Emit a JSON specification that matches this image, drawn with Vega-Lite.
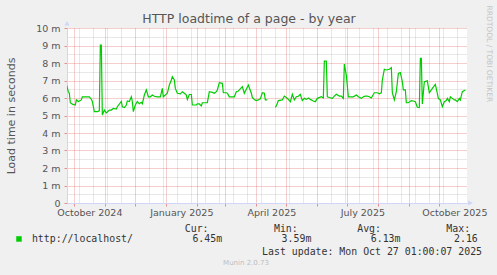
{
  "$schema": "https://vega.github.io/schema/vega-lite/v6.json",
  "width": 400,
  "height": 175,
  "autosize": {"type": "none"},
  "padding": {"left": 67, "top": 28, "right": 30, "bottom": 72},
  "background": "#f0f0f0",
  "config": {"view": {"fill": "#ffffff", "stroke": null}, "font": "DejaVu Sans"},
  "title": {
    "text": "HTTP loadtime of a page - by year",
    "anchor": "middle",
    "frame": "group",
    "dx": -18,
    "dy": 34,
    "font": "DejaVu Sans",
    "fontSize": 12.5,
    "fontWeight": "normal",
    "color": "#555555",
    "baseline": "alphabetic",
    "offset": 4
  },
  "data": {
    "values": [
      {"t": "2024-09-23", "v": 0.0068},
      {"t": "2024-09-25", "v": 0.00636},
      {"t": "2024-09-26", "v": 0.00627},
      {"t": "2024-09-27", "v": 0.00573},
      {"t": "2024-09-29", "v": 0.00565},
      {"t": "2024-10-02", "v": 0.0056},
      {"t": "2024-10-03", "v": 0.00589},
      {"t": "2024-10-05", "v": 0.0058},
      {"t": "2024-10-08", "v": 0.00589},
      {"t": "2024-10-09", "v": 0.00607},
      {"t": "2024-10-13", "v": 0.00607},
      {"t": "2024-10-16", "v": 0.00607},
      {"t": "2024-10-18", "v": 0.00593},
      {"t": "2024-10-19", "v": 0.0058},
      {"t": "2024-10-21", "v": 0.00522},
      {"t": "2024-10-24", "v": 0.00522},
      {"t": "2024-10-26", "v": 0.00527},
      {"t": "2024-10-27", "v": 0.00903},
      {"t": "2024-10-28", "v": 0.00903},
      {"t": "2024-10-29", "v": 0.00503},
      {"t": "2024-10-31", "v": 0.00531},
      {"t": "2024-11-02", "v": 0.00515},
      {"t": "2024-11-03", "v": 0.0052},
      {"t": "2024-11-05", "v": 0.00531},
      {"t": "2024-11-07", "v": 0.00531},
      {"t": "2024-11-09", "v": 0.00541},
      {"t": "2024-11-12", "v": 0.00537},
      {"t": "2024-11-13", "v": 0.0055},
      {"t": "2024-11-17", "v": 0.0058},
      {"t": "2024-11-18", "v": 0.0055},
      {"t": "2024-11-20", "v": 0.00545},
      {"t": "2024-11-22", "v": 0.0056},
      {"t": "2024-11-23", "v": 0.00583},
      {"t": "2024-11-25", "v": 0.0058},
      {"t": "2024-11-27", "v": 0.00607},
      {"t": "2024-11-28", "v": 0.0058},
      {"t": "2024-11-29", "v": 0.00522},
      {"t": "2024-12-01", "v": 0.0056},
      {"t": "2024-12-03", "v": 0.0058},
      {"t": "2024-12-05", "v": 0.00567},
      {"t": "2024-12-07", "v": 0.00575},
      {"t": "2024-12-08", "v": 0.00567},
      {"t": "2024-12-10", "v": 0.00617},
      {"t": "2024-12-12", "v": 0.00646},
      {"t": "2024-12-14", "v": 0.00607},
      {"t": "2024-12-16", "v": 0.00607},
      {"t": "2024-12-18", "v": 0.00617},
      {"t": "2024-12-20", "v": 0.0061},
      {"t": "2024-12-23", "v": 0.00607},
      {"t": "2024-12-26", "v": 0.00607},
      {"t": "2024-12-28", "v": 0.00655},
      {"t": "2024-12-29", "v": 0.00607},
      {"t": "2024-12-31", "v": 0.00617},
      {"t": "2025-01-02", "v": 0.00627},
      {"t": "2025-01-04", "v": 0.00674},
      {"t": "2025-01-06", "v": 0.00703},
      {"t": "2025-01-07", "v": 0.00722},
      {"t": "2025-01-09", "v": 0.00703},
      {"t": "2025-01-10", "v": 0.00655},
      {"t": "2025-01-12", "v": 0.00627},
      {"t": "2025-01-15", "v": 0.00624},
      {"t": "2025-01-17", "v": 0.00636},
      {"t": "2025-01-19", "v": 0.00627},
      {"t": "2025-01-21", "v": 0.00617},
      {"t": "2025-01-22", "v": 0.00592},
      {"t": "2025-01-24", "v": 0.0062},
      {"t": "2025-01-26", "v": 0.0062},
      {"t": "2025-01-27", "v": 0.0056},
      {"t": "2025-01-31", "v": 0.0056},
      {"t": "2025-02-01", "v": 0.00566},
      {"t": "2025-02-03", "v": 0.00566},
      {"t": "2025-02-05", "v": 0.00555},
      {"t": "2025-02-06", "v": 0.00573},
      {"t": "2025-02-11", "v": 0.00573},
      {"t": "2025-02-13", "v": 0.00636},
      {"t": "2025-02-16", "v": 0.00632},
      {"t": "2025-02-18", "v": 0.00627},
      {"t": "2025-02-20", "v": 0.00636},
      {"t": "2025-02-21", "v": 0.00646},
      {"t": "2025-02-23", "v": 0.00688},
      {"t": "2025-02-26", "v": 0.00684},
      {"t": "2025-02-27", "v": 0.0063},
      {"t": "2025-03-02", "v": 0.0063},
      {"t": "2025-03-03", "v": 0.00627},
      {"t": "2025-03-05", "v": 0.00607},
      {"t": "2025-03-08", "v": 0.00607},
      {"t": "2025-03-10", "v": 0.00607},
      {"t": "2025-03-12", "v": 0.00636},
      {"t": "2025-03-14", "v": 0.0064},
      {"t": "2025-03-15", "v": 0.00646},
      {"t": "2025-03-18", "v": 0.00665},
      {"t": "2025-03-20", "v": 0.00627},
      {"t": "2025-03-22", "v": 0.0065},
      {"t": "2025-03-24", "v": 0.00674},
      {"t": "2025-03-27", "v": 0.00627},
      {"t": "2025-03-28", "v": 0.00603},
      {"t": "2025-03-30", "v": 0.00592},
      {"t": "2025-04-01", "v": 0.00585},
      {"t": "2025-04-03", "v": 0.00589},
      {"t": "2025-04-05", "v": 0.00595},
      {"t": "2025-04-07", "v": 0.0063},
      {"t": "2025-04-09", "v": 0.00627},
      {"t": "2025-04-10", "v": 0.00589},
      {"t": "2025-04-12", "v": 0.00589},
      {"t": "2025-04-15", "v": null},
      {"t": "2025-04-20", "v": 0.00547},
      {"t": "2025-04-21", "v": 0.00555},
      {"t": "2025-04-23", "v": 0.00585},
      {"t": "2025-04-27", "v": 0.00589},
      {"t": "2025-04-29", "v": 0.00611},
      {"t": "2025-05-01", "v": 0.00603},
      {"t": "2025-05-03", "v": 0.00592},
      {"t": "2025-05-05", "v": 0.00579},
      {"t": "2025-05-07", "v": 0.00621},
      {"t": "2025-05-09", "v": 0.00589},
      {"t": "2025-05-11", "v": 0.00607},
      {"t": "2025-05-13", "v": 0.0061},
      {"t": "2025-05-15", "v": 0.00621},
      {"t": "2025-05-17", "v": 0.00585},
      {"t": "2025-05-19", "v": 0.00598},
      {"t": "2025-05-21", "v": 0.00592},
      {"t": "2025-05-23", "v": 0.006},
      {"t": "2025-05-25", "v": 0.00592},
      {"t": "2025-05-28", "v": 0.00583},
      {"t": "2025-05-30", "v": 0.00579},
      {"t": "2025-06-01", "v": 0.00598},
      {"t": "2025-06-05", "v": 0.00607},
      {"t": "2025-06-07", "v": 0.006},
      {"t": "2025-06-08", "v": 0.00811},
      {"t": "2025-06-10", "v": 0.00811},
      {"t": "2025-06-11", "v": 0.00607},
      {"t": "2025-06-13", "v": 0.00603},
      {"t": "2025-06-16", "v": 0.00598},
      {"t": "2025-06-18", "v": 0.00611},
      {"t": "2025-06-20", "v": 0.00621},
      {"t": "2025-06-23", "v": 0.00611},
      {"t": "2025-06-25", "v": 0.00611},
      {"t": "2025-06-27", "v": 0.00598},
      {"t": "2025-06-28", "v": 0.00794},
      {"t": "2025-06-30", "v": 0.00731},
      {"t": "2025-07-02", "v": 0.00607},
      {"t": "2025-07-05", "v": 0.00607},
      {"t": "2025-07-07", "v": 0.00607},
      {"t": "2025-07-10", "v": 0.00617},
      {"t": "2025-07-12", "v": 0.00607},
      {"t": "2025-07-15", "v": 0.00598},
      {"t": "2025-07-17", "v": 0.00607},
      {"t": "2025-07-19", "v": 0.00611},
      {"t": "2025-07-21", "v": 0.00611},
      {"t": "2025-07-23", "v": 0.00607},
      {"t": "2025-07-25", "v": 0.006},
      {"t": "2025-07-28", "v": 0.0063},
      {"t": "2025-07-31", "v": 0.0063},
      {"t": "2025-08-02", "v": 0.00624},
      {"t": "2025-08-04", "v": 0.0063},
      {"t": "2025-08-05", "v": 0.00703},
      {"t": "2025-08-07", "v": 0.00764},
      {"t": "2025-08-09", "v": 0.0076},
      {"t": "2025-08-12", "v": 0.00764},
      {"t": "2025-08-14", "v": 0.00773},
      {"t": "2025-08-15", "v": 0.0063},
      {"t": "2025-08-17", "v": 0.00589},
      {"t": "2025-08-19", "v": 0.00636},
      {"t": "2025-08-21", "v": 0.00741},
      {"t": "2025-08-23", "v": 0.00745},
      {"t": "2025-08-25", "v": 0.00693},
      {"t": "2025-08-26", "v": 0.00646},
      {"t": "2025-08-28", "v": 0.00646},
      {"t": "2025-08-29", "v": 0.00573},
      {"t": "2025-08-31", "v": 0.00573},
      {"t": "2025-09-03", "v": 0.00585},
      {"t": "2025-09-05", "v": 0.00583},
      {"t": "2025-09-07", "v": 0.00579},
      {"t": "2025-09-09", "v": 0.00547},
      {"t": "2025-09-11", "v": 0.00545},
      {"t": "2025-09-12", "v": 0.00827},
      {"t": "2025-09-13", "v": 0.00827},
      {"t": "2025-09-14", "v": 0.00566},
      {"t": "2025-09-16", "v": 0.00693},
      {"t": "2025-09-19", "v": 0.00698},
      {"t": "2025-09-21", "v": 0.0063},
      {"t": "2025-09-23", "v": 0.00646},
      {"t": "2025-09-24", "v": 0.00655},
      {"t": "2025-09-27", "v": 0.00678},
      {"t": "2025-09-29", "v": 0.00627},
      {"t": "2025-09-30", "v": 0.00598},
      {"t": "2025-10-02", "v": 0.00589},
      {"t": "2025-10-04", "v": 0.0055},
      {"t": "2025-10-06", "v": 0.00579},
      {"t": "2025-10-08", "v": 0.00585},
      {"t": "2025-10-09", "v": 0.00598},
      {"t": "2025-10-11", "v": 0.00579},
      {"t": "2025-10-12", "v": 0.00607},
      {"t": "2025-10-14", "v": 0.00598},
      {"t": "2025-10-16", "v": 0.00589},
      {"t": "2025-10-17", "v": 0.00589},
      {"t": "2025-10-19", "v": 0.00579},
      {"t": "2025-10-21", "v": 0.00598},
      {"t": "2025-10-22", "v": 0.00589},
      {"t": "2025-10-24", "v": 0.00636},
      {"t": "2025-10-27", "v": 0.00646}
    ]
  },
  "layer": [
    {
      "mark": {"type": "line", "strokeWidth": 1.2, "invalid": "break-paths-show-domains", "clip": true},
      "encoding": {
        "x": {
          "field": "t",
          "type": "temporal",
          "scale": {
            "type": "utc",
            "domain": [
              {"year": 2024, "month": 9, "date": 23, "hours": 16, "utc": true},
              {"year": 2025, "month": 10, "date": 28, "hours": 16, "utc": true}
            ]
          },
          "axis": {
            "orient": "bottom",
            "values": [
              {"year": 2024, "month": 10, "date": 1, "utc": true},
              {"year": 2024, "month": 11, "date": 1, "utc": true},
              {"year": 2024, "month": 12, "date": 1, "utc": true},
              {"year": 2025, "month": 1, "date": 1, "utc": true},
              {"year": 2025, "month": 2, "date": 1, "utc": true},
              {"year": 2025, "month": 3, "date": 1, "utc": true},
              {"year": 2025, "month": 4, "date": 1, "utc": true},
              {"year": 2025, "month": 5, "date": 1, "utc": true},
              {"year": 2025, "month": 6, "date": 1, "utc": true},
              {"year": 2025, "month": 7, "date": 1, "utc": true},
              {"year": 2025, "month": 8, "date": 1, "utc": true},
              {"year": 2025, "month": 9, "date": 1, "utc": true},
              {"year": 2025, "month": 10, "date": 1, "utc": true},
              {"year": 2024, "month": 10, "date": 6, "utc": true},
              {"year": 2024, "month": 10, "date": 20, "utc": true},
              {"year": 2024, "month": 11, "date": 3, "utc": true},
              {"year": 2024, "month": 11, "date": 17, "utc": true},
              {"year": 2024, "month": 12, "date": 15, "utc": true},
              {"year": 2024, "month": 12, "date": 29, "utc": true},
              {"year": 2025, "month": 1, "date": 12, "utc": true},
              {"year": 2025, "month": 1, "date": 26, "utc": true},
              {"year": 2025, "month": 2, "date": 9, "utc": true},
              {"year": 2025, "month": 2, "date": 23, "utc": true},
              {"year": 2025, "month": 3, "date": 9, "utc": true},
              {"year": 2025, "month": 3, "date": 23, "utc": true},
              {"year": 2025, "month": 4, "date": 6, "utc": true},
              {"year": 2025, "month": 4, "date": 20, "utc": true},
              {"year": 2025, "month": 5, "date": 4, "utc": true},
              {"year": 2025, "month": 5, "date": 18, "utc": true},
              {"year": 2025, "month": 6, "date": 15, "utc": true},
              {"year": 2025, "month": 6, "date": 29, "utc": true},
              {"year": 2025, "month": 7, "date": 13, "utc": true},
              {"year": 2025, "month": 7, "date": 27, "utc": true},
              {"year": 2025, "month": 8, "date": 10, "utc": true},
              {"year": 2025, "month": 8, "date": 24, "utc": true},
              {"year": 2025, "month": 9, "date": 7, "utc": true},
              {"year": 2025, "month": 9, "date": 21, "utc": true},
              {"year": 2025, "month": 10, "date": 5, "utc": true},
              {"year": 2025, "month": 10, "date": 19, "utc": true}
            ],
            "labelExpr": "utcdate(datum.value) == 1 && utcmonth(datum.value) % 3 == 0 ? utcFormat(datum.value, '%B %Y') : ''",
            "labelOffset": 15,
            "labelFont": "DejaVu Sans",
            "labelFontSize": 9.5,
            "labelColor": "#555555",
            "labelPadding": 1,
            "labelOverlap": false,
            "labelFlush": false,
            "labelBound": false,
            "tickSize": 3,
            "tickColor": {"condition": {"test": "utcdate(datum.value) == 1", "value": "#de4f4f"}, "value": "#8f8f8f"},
            "tickOpacity": {"condition": {"test": "utcdate(datum.value) == 1", "value": 0.6}, "value": 0},
            "domainColor": "#cfd6f8",
            "grid": true,
            "gridColor": {"condition": {"test": "utcdate(datum.value) == 1", "value": "#de4f4f"}, "value": "#8f8f8f"},
            "gridOpacity": {"condition": {"test": "utcdate(datum.value) == 1", "value": 0.55}, "value": 0.4},
            "gridDash": [1, 1],
            "title": [
              "\u200b\u00a0\u00a0\u00a0\u00a0\u00a0\u00a0\u00a0\u00a0\u00a0\u00a0\u00a0\u00a0\u00a0\u00a0\u00a0\u00a0\u00a0\u00a0\u00a0\u00a0\u00a0\u00a0\u00a0\u00a0\u00a0\u00a0Cur:\u00a0\u00a0\u00a0\u00a0\u00a0\u00a0\u00a0\u00a0\u00a0\u00a0\u00a0Min:\u00a0\u00a0\u00a0\u00a0\u00a0\u00a0\u00a0\u00a0\u00a0\u00a0Avg:\u00a0\u00a0\u00a0\u00a0\u00a0\u00a0\u00a0\u00a0\u00a0\u00a0\u00a0Max:",
              "\u200b\u00a0\u00a0\u00a0\u00a0\u00a0\u00a0\u00a0\u00a0\u00a0\u00a0\u00a0\u00a0\u00a0\u00a0\u00a0\u00a0\u00a0\u00a0\u00a0\u00a0\u00a0\u00a0\u00a0\u00a0\u00a0\u00a0\u00a0\u00a0\u00a0\u00a0\u00a0\u00a0\u00a0\u00a0\u00a0\u00a0\u00a0\u00a0\u00a0Last update: Mon Oct 27 01:00:07 2025"
            ],
            "titleFont": "DejaVu Sans Mono",
            "titleFontSize": 9.9,
            "titleFontWeight": "normal",
            "titleColor": "#333333",
            "titleAnchor": "start",
            "titleAlign": "left",
            "titleBaseline": "alphabetic",
            "titleX": -37.3,
            "titleY": 28,
            "titleLineHeight": 23.4,
            "titleLimit": 1000
          }
        },
        "y": {
          "field": "v",
          "type": "quantitative",
          "scale": {"domain": [0, 0.01], "nice": false, "zero": true},
          "axis": {
            "values": [0, 0.0005, 0.001, 0.0015, 0.002, 0.0025, 0.003, 0.0035, 0.004, 0.0045, 0.005, 0.0055, 0.006, 0.0065, 0.007, 0.0075, 0.008, 0.0085, 0.009, 0.0095, 0.01],
            "labelExpr": "abs(datum.value * 1000 - round(datum.value * 1000)) < 0.01 ? (datum.value == 0 ? '0' : round(datum.value * 1000) + ' m') : ''",
            "labelFont": "DejaVu Sans",
            "labelFontSize": 9.5,
            "labelColor": "#555555",
            "labelPadding": 4,
            "labelOverlap": false,
            "labelFlush": false,
            "labelBound": false,
            "tickSize": 3,
            "tickColor": {"condition": {"test": "abs(datum.value * 1000 - round(datum.value * 1000)) < 0.01", "value": "#de4f4f"}, "value": "#8f8f8f"},
            "tickOpacity": {"condition": {"test": "abs(datum.value * 1000 - round(datum.value * 1000)) < 0.01", "value": 0.6}, "value": 0},
            "domainColor": "#cfd6f8",
            "grid": true,
            "gridColor": {"condition": {"test": "abs(datum.value * 1000 - round(datum.value * 1000)) < 0.01", "value": "#de4f4f"}, "value": "#8f8f8f"},
            "gridOpacity": {"condition": {"test": "abs(datum.value * 1000 - round(datum.value * 1000)) < 0.01", "value": 0.55}, "value": 0.4},
            "gridDash": [1, 1],
            "title": "Load time in seconds",
            "titleFont": "DejaVu Sans",
            "titleFontSize": 11,
            "titleFontWeight": "normal",
            "titleColor": "#555555",
            "titleAngle": -90,
            "titleAlign": "center",
            "titleBaseline": "middle",
            "titleX": -56,
            "titleY": 87.5
          }
        },
        "color": {
          "datum": "http://localhost/",
          "scale": {"range": ["#00cc00"]},
          "legend": {
            "orient": "none",
            "legendX": -53,
            "legendY": 206,
            "padding": 0,
            "symbolType": "square",
            "symbolSize": 25,
            "symbolFillColor": "#00cc00",
            "symbolStrokeColor": "#00cc00",
            "symbolStrokeWidth": 0.5,
            "labelOffset": 8,
            "labelExpr": "'http://localhost/\u00a0\u00a0\u00a0\u00a0\u00a0\u00a0\u00a0\u00a0\u00a0\u00a06.45m\u00a0\u00a0\u00a0\u00a0\u00a0\u00a0\u00a0\u00a0\u00a0\u00a03.59m\u00a0\u00a0\u00a0\u00a0\u00a0\u00a0\u00a0\u00a0\u00a0\u00a06.13m\u00a0\u00a0\u00a0\u00a0\u00a0\u00a0\u00a0\u00a0\u00a02.16'",
            "labelFont": "DejaVu Sans Mono",
            "labelFontSize": 9.9,
            "labelColor": "#333333",
            "labelLimit": 1000,
            "title": "Munin 2.0.73",
            "titleOrient": "bottom",
            "titleAnchor": "middle",
            "titleFont": "DejaVu Sans",
            "titleFontSize": 7,
            "titleFontWeight": "normal",
            "titleColor": "#bdbdbd",
            "titlePadding": 15
          }
        }
      }
    },
    {
      "data": {"values": [{}]},
      "mark": {"type": "point", "shape": "M-1,-1L1,-1L0,-2.8Z", "size": 25, "filled": true, "color": "#cfd6f8", "opacity": 1, "clip": false},
      "encoding": {
        "x": {"datum": {"year": 2024, "month": 9, "date": 23, "hours": 16, "utc": true}, "type": "temporal", "axis": null},
        "y": {"datum": 0.01, "type": "quantitative", "axis": null}
      }
    },
    {
      "data": {"values": [{}]},
      "mark": {"type": "point", "shape": "M0.4,-1L0.4,1L2.4,0Z", "size": 25, "filled": true, "color": "#cfd6f8", "opacity": 1, "clip": false},
      "encoding": {
        "x": {"datum": {"year": 2025, "month": 10, "date": 28, "hours": 16, "utc": true}, "type": "temporal", "axis": null},
        "y": {
          "datum": 0,
          "type": "quantitative",
          "axis": {
            "orient": "right",
            "domain": false,
            "labels": false,
            "ticks": false,
            "grid": false,
            "title": "RRDTOOL / TOBI OETIKER",
            "titleFont": "DejaVu Sans",
            "titleFontSize": 7.5,
            "titleFontWeight": "normal",
            "titleColor": "#c4c4c4",
            "titleAngle": 90,
            "titleAlign": "left",
            "titleBaseline": "middle",
            "titleX": 21,
            "titleY": -23
          }
        }
      }
    }
  ],
  "resolve": {"axis": {"x": "independent", "y": "independent"}}
}
